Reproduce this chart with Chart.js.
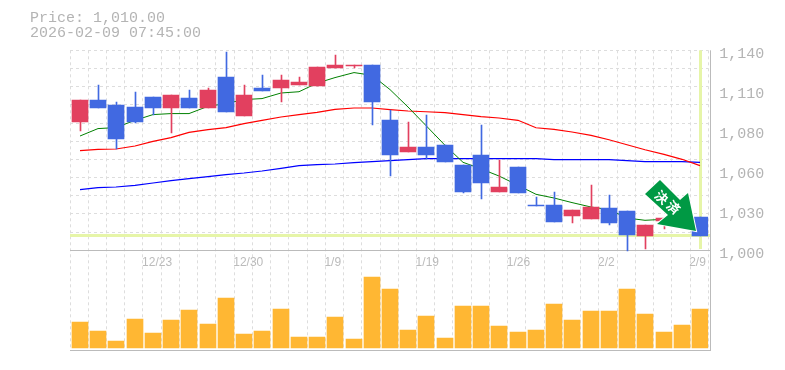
<!DOCTYPE html>
<html>
<head>
<meta charset="utf-8">
<style>
  html, body { margin: 0; padding: 0; background: #fff; }
  #wrap { position: relative; width: 785px; height: 370px; overflow: hidden; }
  #info { position: absolute; left: 30px; top: 11px; font: 15px/15px "Liberation Mono", monospace; color: #b4b4b4; white-space: pre; }
</style>
</head>
<body>
<div id="wrap">
  <div id="info">Price: 1,010.00
2026-02-09 07:45:00</div>
  <canvas id="chart" width="785" height="370"></canvas>
</div>
<script src="https://cdn.jsdelivr.net/npm/chart.js@4"></script>
<script>
// daily candles
const dates = ['12/17','12/18','12/19','12/22','12/23','12/24','12/25','12/26','12/29','12/30','1/5','1/6','1/7','1/8','1/9','1/13','1/14','1/15','1/16','1/19','1/20','1/21','1/22','1/23','1/26','1/27','1/28','1/29','1/30','2/2','2/3','2/4','2/5','2/6','2/9'];
const opens  = [1090,1105,1102,1100,1107,1099.4,1106.4,1099.4,1121,1094,1113.4,1113.4,1115.5,1115,1127.4,1129,1129.5,1091,1069,1072,1073.5,1060,1066.5,1040.6,1058,1032,1031.5,1024,1022,1029.4,1027.3,1010,1020.3,1017,1023];
const closes = [1105,1099.4,1077.7,1089.6,1099.4,1108.5,1099.4,1112,1097,1109,1111.3,1119,1117.6,1128,1129.5,1130,1103.6,1066.5,1072,1066.5,1062,1040.6,1047,1044,1040,1031,1020,1028,1030,1019,1010.5,1018,1022.4,1026,1010];
const highs  = [1105,1115.5,1103.6,1111,1107,1108.5,1112,1113.4,1139,1115.5,1122.5,1122.5,1121,1128,1136.5,1130,1129.5,1098,1090,1095,1073.5,1060,1088,1063,1058,1037,1040.6,1028,1045.5,1038.5,1027.3,1018,1022.4,1026,1023];
const lows   = [1083.7,1099.4,1070.7,1089,1095,1082,1099.4,1099.4,1097,1094,1111.3,1104,1115.5,1115,1127.4,1127.4,1087.5,1052,1069,1064,1062,1040,1036,1040.6,1040,1031,1020,1019,1022,1017.5,999.5,1001,1015,1017,1010];
const volumes = [26,17,7,29,15,28,38,24,50,14,17,39,11,11,31,9,71,59,18,32,10,42,42,22,16,18,44,28,37,37,59,34,16,23,39];

// moving averages
const maShort = [1080,1085.2,1085.9,1091,1095,1095.7,1095.7,1100.8,1102.7,1105.5,1106.2,1110.1,1111,1117,1120.9,1124.4,1122.5,1112.5,1100.3,1087.3,1073.5,1061.6,1057,1052,1045.5,1039.2,1036.6,1033.4,1030.3,1028.5,1022.6,1021,1021.7,1021,1019];
const maMid = [1069.8,1070.7,1070.9,1073,1076.3,1078.9,1082.6,1084.5,1085.9,1088.7,1091,1093.3,1095,1096.6,1098.7,1099.6,1099.6,1098.5,1097.5,1097,1096.4,1095,1093.6,1092.6,1091,1085.8,1084.7,1082.8,1080.5,1077.4,1073.9,1070.4,1067.2,1063.7,1059.3];
const maLong = [1042.5,1043.9,1044.3,1045.5,1047.1,1048.8,1050.2,1051.6,1053,1054.1,1055.5,1057.4,1059.3,1060,1060.4,1061.4,1062.1,1062.8,1063.5,1064.2,1064.2,1064.2,1064.2,1064.2,1064.2,1064.2,1063.5,1063.5,1063.5,1063.5,1062.8,1062.1,1062.1,1062.1,1061.6];

// axis
const priceTicks = [1000,1028,1056,1084,1112,1140];
const priceLabels = ['1,000','1,030','1,060','1,080','1,110','1,140'];
const gridTicks = [1000,1012.73,1025.45,1038.18,1050.91,1063.64,1076.36,1089.09,1101.82,1114.55,1127.27,1140];
const lastPrice = 1010;
const arrowText = '決済';

const UP = '#e2405f', DOWN = '#4169e1';
const candleColors = closes.map((c, i) => c >= opens[i] ? UP : DOWN);

const snapX = x => Math.floor(x + 1.35);

// the picture has crisp pixel edges so snap the marks before they are drawn
function snapMarks(chart) {
  chart.data.datasets.forEach((ds, i) => {
    chart.getDatasetMeta(i).data.forEach(el => {
      el.x = snapX(el.x) + (ds.barThickness === 1 ? 0.5 : 0);
      if (ds.type === 'bar') {
        el.y = Math.round(el.y);
        el.base = Math.round(el.base);
      }
    });
  });
}

const overlay = {
  id: 'overlay',
  beforeDatasetsDraw(chart) {
    const { ctx, chartArea, scales } = chart;
    const y1000 = Math.round(scales.y.getPixelForValue(1000));
    const yLast = Math.round(scales.y.getPixelForValue(lastPrice));
    const xLast = snapX(scales.x.getPixelForValue(dates.length - 1));
    const right = Math.round(chartArea.right) + 2;
    snapMarks(chart);
    ctx.save();
    // current price + current bar markers
    ctx.fillStyle = '#e6f5a8';
    ctx.fillRect(chartArea.left, yLast - 2, right - chartArea.left, 3);
    ctx.fillRect(xLast - 1, chartArea.top, 3, y1000 - chartArea.top - 1);
    // panel frame
    ctx.fillStyle = '#bbb';
    ctx.fillRect(chartArea.left, y1000, right - chartArea.left + 1, 1);
    ctx.fillRect(chartArea.left, Math.round(chartArea.bottom), right - chartArea.left + 1, 1);
    ctx.fillRect(right, chartArea.top, 1, chartArea.height + 1);
    ctx.restore();
  },
  afterDatasetsDraw(chart) {
    const { ctx, scales } = chart;
    const tipX = snapX(scales.x.getPixelForValue(dates.length - 1)) - 4;
    const tipY = scales.y.getPixelForValue(lastPrice) - 5;
    const shape = [[0,0],[-8,-38],[-16,-31],[-36,-51],[-51,-37],[-28,-16],[-39,-7]];
    ctx.save();
    ctx.translate(tipX, tipY);
    ctx.beginPath();
    shape.forEach(([x, y], i) => i ? ctx.lineTo(x, y) : ctx.moveTo(x, y));
    ctx.closePath();
    ctx.fillStyle = '#009944';
    ctx.strokeStyle = '#fff';
    ctx.lineWidth = 2;
    ctx.lineJoin = 'miter';
    ctx.stroke();
    ctx.fill();
    // label runs along the arrow shaft
    ctx.translate(-28.5, -28.7);
    ctx.rotate(Math.PI * 0.227);
    ctx.fillStyle = '#fff';
    ctx.font = 'bold 13px "Noto Sans CJK JP"';
    ctx.textAlign = 'center';
    ctx.textBaseline = 'middle';
    ctx.fillText(arrowText[0], -7.7, 0);
    ctx.fillText(arrowText[1], 7.7, 0);
    ctx.restore();
  }
};

new Chart(document.getElementById('chart').getContext('2d'), {
  data: {
    labels: dates,
    datasets: [
      { type: 'bar', label: 'body', data: opens.map((o, i) => [o, closes[i]]), backgroundColor: candleColors, barThickness: 16, grouped: false, yAxisID: 'y', order: 1 },
      { type: 'bar', label: 'wick', data: lows.map((l, i) => [l, highs[i]]), backgroundColor: candleColors, barThickness: 1, grouped: false, yAxisID: 'y', order: 2 },
      { type: 'bar', label: 'volume', data: volumes, backgroundColor: '#ffb733', barThickness: 16, grouped: false, yAxisID: 'yVol', order: 3 },
      { type: 'line', label: 'short', data: maShort, borderColor: '#008000', borderWidth: 1, pointRadius: 0, tension: 0, yAxisID: 'y', order: 4 },
      { type: 'line', label: 'mid', data: maMid, borderColor: '#ff0000', borderWidth: 1.2, pointRadius: 0, tension: 0, yAxisID: 'y', order: 5 },
      { type: 'line', label: 'long', data: maLong, borderColor: '#0000ff', borderWidth: 1.2, pointRadius: 0, tension: 0, yAxisID: 'y', order: 6 }
    ]
  },
  options: {
    responsive: false,
    animation: false,
    events: [],
    layout: { padding: { left: 70, top: 50.3, right: 0, bottom: 20 } },
    plugins: { legend: { display: false }, tooltip: { enabled: false } },
    scales: {
      x: {
        type: 'category',
        offset: true,
        position: { y: 1000 },
        border: { display: false, dash: [3, 3] },
        grid: { color: '#ddd', offset: true, drawTicks: false },
        ticks: {
          autoSkip: false,
          maxRotation: 0,
          align: 'start',
          labelOffset: -10,
          padding: 5,
          color: '#bbb',
          font: { family: 'Liberation Sans', size: 12 },
          callback: (v, i) => (dates.length - 1 - i) % 5 === 0 ? dates[i] : ''
        }
      },
      y: {
        position: 'right',
        min: 930.21,
        max: 1140,
        grid: { display: false, drawTicks: false },
        border: { display: false },
        afterFit: axis => { axis.width = 76.7; },
        afterBuildTicks: axis => { axis.ticks = priceTicks.map(value => ({ value })); },
        ticks: {
          padding: 11,
          labelOffset: 4,
          color: '#b4b4b4',
          font: { family: 'Liberation Mono', size: 15 },
          callback: v => priceLabels[priceTicks.indexOf(v)]
        }
      },
      yGrid: {
        position: 'left',
        min: 930.21,
        max: 1140,
        border: { display: false, dash: [3, 3] },
        grid: { color: '#ddd', drawTicks: false },
        ticks: { display: false },
        afterFit: axis => { axis.width = 0; },
        afterBuildTicks: axis => { axis.ticks = gridTicks.map(value => ({ value })); }
      },
      yVol: {
        display: false,
        min: -2,
        max: 297.7
      }
    }
  },
  plugins: [overlay]
});
</script>
</body>
</html>
